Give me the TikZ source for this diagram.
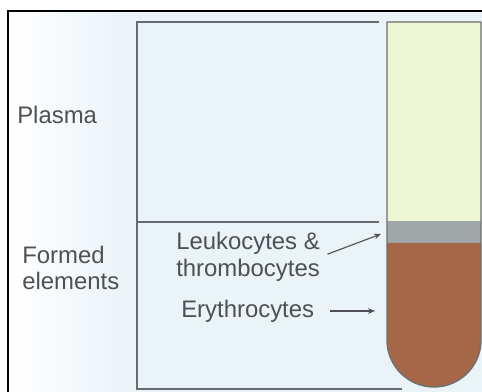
\documentclass[tikz,border=0pt]{standalone}
\usepackage{fontspec}
\setmainfont{Liberation Sans}
\usepackage{xcolor}
\usepackage{tikz}
\usetikzlibrary{arrows.meta,positioning,calc}
\tikzset{
  lbl/.style    ={font=\fontsize{17}{19}\selectfont, text=txtgray,
                  inner sep=0pt, anchor=west, align=left},
  brk/.style    ={draw=linegray, line width=1.1pt},
  tubeln/.style ={draw=tubegray, line width=1pt},
  arr/.style    ={-{Stealth[length=5pt, width=4pt]}, line width=0.8pt, draw=txtgray},
}
\definecolor{txtgray}  {RGB}{78,80,82}
\definecolor{linegray} {RGB}{105,108,110}
\definecolor{tubegray} {RGB}{110,112,110}
\definecolor{bgblue}   {RGB}{234,243,248}
\definecolor{plasmacol}{RGB}{238,245,212}
\definecolor{buffycol} {RGB}{160,167,168}
\definecolor{rbccol}   {RGB}{166,103,73}

\begin{document}
\begin{tikzpicture}[x=0.025cm, y=0.025cm]

\useasboundingbox (0,0) rectangle (482,-392);

\fill[bgblue] (8,-11) rectangle (482,-392);
\shade[left color=white, right color=bgblue] (8,-11) rectangle (130,-392);
\draw[black, line width=0.8pt] (8,-392) -- (8,-11) -- (482,-11);

\draw[brk] (379,-22) -- (137,-22) -- (137,-389) -- (402,-389);
\draw[brk] (137,-222) -- (379,-222);

\fill[plasmacol] (387,-22) rectangle (481,-221);
\fill[buffycol]  (387,-221) rectangle (481,-243);
\path[fill=rbccol] (387,-243) -- (387,-340)
  arc[start angle=180, end angle=360, radius=47] -- (481,-243) -- cycle;
\draw[tubeln] (481,-22) -- (387,-22) -- (387,-340)
  arc[start angle=180, end angle=360, radius=47] -- (481,-22);

\coordinate (wbc) at (381,-234);
\coordinate (rbc) at (375,-311);

\node[lbl] (plasma) at (17,-115) {Plasma};
\node[lbl] (formed) at (22,-268) {Formed\\elements};
\node[lbl] (leuko)  at (176,-257) {Leukocytes \&\\thrombocytes};
\node[lbl] (ery)    at (181,-311) {Erythrocytes};

\draw[arr, shorten <=0.2cm] (leuko.east) -- (wbc);
\draw[arr, shorten <=0.4cm] (ery.east) -- (rbc);

\end{tikzpicture}
\end{document}
